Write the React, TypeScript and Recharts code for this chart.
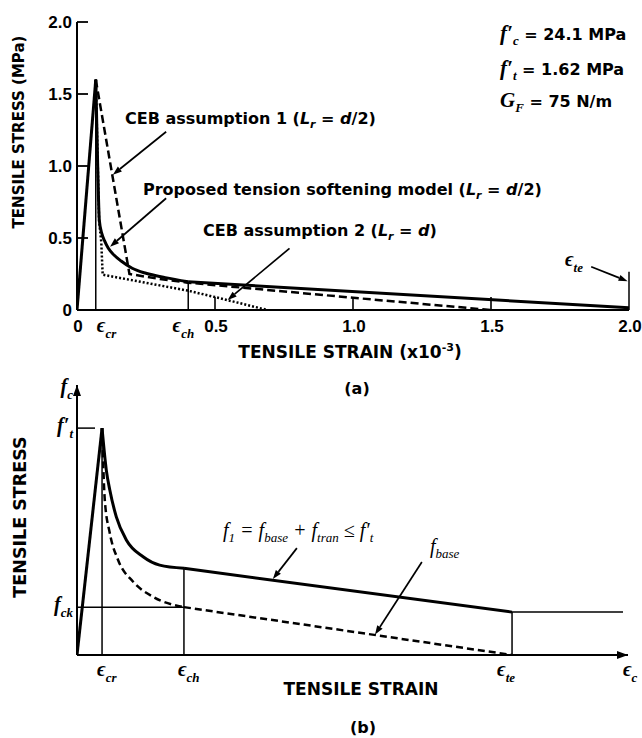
import React from "react";
import { LineChart, Line, XAxis, YAxis, ReferenceLine, ReferenceDot } from "recharts";

// ---- panel (a): strain in 1e-3, stress in MPa
const propRiseStrain = [0, 0.068];
const propRiseStress = [0, 1.6];
const propDecayStrain = [0.068, 0.075, 0.081, 0.09, 0.1, 0.113, 0.135, 0.16, 0.2, 0.25, 0.32, 0.403];
const propDecayStress = [1.6, 1.0, 0.62, 0.53, 0.48, 0.43, 0.38, 0.34, 0.29, 0.255, 0.225, 0.196];
const propTailStrain = [0.403, 2.0];
const propTailStress = [0.196, 0.015];
const ceb1Strain = [0.068, 0.19, 0.3, 0.4, 1.0, 1.5];
const ceb1Stress = [1.6, 0.25, 0.215, 0.19, 0.085, 0];
const ceb2Strain = [0.068, 0.08, 0.088, 0.093, 0.4, 0.5, 0.69];
const ceb2Stress = [1.6, 0.62, 0.47, 0.245, 0.135, 0.09, 0];

// eps_cr, eps_ch, eps_te markers
const aMarkStrain = [0.068, 0.403, 2.0];
const aMarkStress = [1.6, 0.196, 0.265];

const aXTicks = [0, 0.068, 0.403, 0.5, 1.0, 1.5, 2.0];
const aXTickLabels = ["0", "ϵ_cr", "ϵ_ch", "0.5", "1.0", "1.5", "2.0"];
const aYTicks = [0, 0.5, 1.0, 1.5, 2.0];
const aYTickLabels = ["0", "0.5", "1.0", "1.5", "2.0"];

// ---- panel (b): schematic, normalised units
const bRiseStrain = [0, 1];
const bRiseStress = [0, 1];
const f1DecayStrain = [1, 1.17, 1.31, 1.57, 1.97, 2.64, 3.3, 4.27];
const f1DecayStress = [1, 0.815, 0.727, 0.609, 0.507, 0.433, 0.396, 0.382];
const f1LinStrain = [4.27, 17.37];
const f1LinStress = [0.382, 0.189];
const f1TailStrain = [17.37, 21.8];
const f1TailStress = [0.189, 0.189];
const baseDecayStrain = [1, 1.11, 1.31, 1.64, 2.24, 3.03, 4.27];
const baseDecayStress = [1, 0.683, 0.537, 0.419, 0.323, 0.257, 0.211];
const baseLinStrain = [4.27, 17.37];
const baseLinStress = [0.211, 0];

const bXTicks = [1, 4.27, 17.37, 22];
const bXTickLabels = ["ϵ_cr", "ϵ_ch", "ϵ_te", "ϵ_c"];
const bYTicks = [0.211, 1, 1.19];
const bYTickLabels = ["f_ck", "f′_t", "f_c"];

const rows = (xs: number[], ys: number[]) => xs.map((x, i) => ({ x, y: ys[i] }));

const SANS = "'DejaVu Sans', sans-serif";
const NUM = "'Liberation Sans', Arial, sans-serif";
const SERIF = "'Liberation Serif', 'DejaVu Serif', serif";

const arrow = (p: any) => {
  const { x1, y1, x2, y2 } = p;
  const a = Math.atan2(y2 - y1, x2 - x1);
  const L = 9, W = 3.2;
  const bx = x2 - L * Math.cos(a), by = y2 - L * Math.sin(a);
  const pts = `${x2},${y2} ${bx + W * Math.sin(a)},${by - W * Math.cos(a)} ${bx - W * Math.sin(a)},${by + W * Math.cos(a)}`;
  return (
    <g>
      <line x1={x1} y1={y1} x2={bx} y2={by} stroke="#000" strokeWidth={1.7} />
      <polygon points={pts} fill="#000" />
    </g>
  );
};

function SymLabel({ label, x, y, anchor, size, bold }: any) {
  const [base, sub] = label.split("_");
  return (
    <text x={x} y={y} textAnchor={anchor} fontFamily={SERIF} fontStyle="italic" fontWeight={bold ? "bold" : "normal"} fontSize={size} fill="#000">
      {base}
      {sub && <tspan fontSize={size * 0.65} dy={size * 0.28}>{sub}</tspan>}
    </text>
  );
}

const ATickX = (p: any) => {
  const { x, y, payload } = p;
  const i = aXTicks.indexOf(payload.value);
  const label = aXTickLabels[i];
  if (label.startsWith("ϵ")) {
    const right = label === "ϵ_ch";
    return <SymLabel label={label} x={right ? x + 6 : x + 1} y={y + 22} anchor={right ? "end" : "start"} size={20} bold />;
  }
  return (
    <g>
      {payload.value > 0 && payload.value < 2 && <line x1={x} x2={x} y1={y} y2={y - 13} stroke="#000" strokeWidth={1.6} />}
      <text x={x + 1} y={y + 22} textAnchor="middle" fontFamily={NUM} fontWeight="bold" fontSize={17} fill="#000">{label}</text>
    </g>
  );
};

const ATickY = (p: any) => {
  const { x, y, payload } = p;
  const label = aYTickLabels[aYTicks.indexOf(payload.value)];
  return (
    <g>
      <line x1={x} x2={x + 11} y1={y} y2={y} stroke="#000" strokeWidth={1.8} />
      <text x={x - 5} y={y + 6} textAnchor="end" fontFamily={NUM} fontWeight="bold" fontSize={17} fill="#000">{label}</text>
    </g>
  );
};

const bXOffset: Record<string, number> = { "ϵ_cr": -5, "ϵ_ch": -6, "ϵ_te": -15, "ϵ_c": -5 };
const BTickX = (p: any) => {
  const { x, y, payload } = p;
  const label = bXTickLabels[bXTicks.indexOf(payload.value)];
  return <SymLabel label={label} x={x + bXOffset[label]} y={y + 21} anchor="start" size={20} bold />;
};

const BTickY = (p: any) => {
  const { x, y, payload } = p;
  const label = bYTickLabels[bYTicks.indexOf(payload.value)];
  const dy = label === "f_c" ? 8 : 4;
  return (
    <g>
      {label === "f′_t" && <line x1={x} x2={x + 18} y1={y} y2={y} stroke="#000" strokeWidth={1.5} />}
      <SymLabel label={label} x={x - 4} y={y + dy} anchor="end" size={20} bold />
    </g>
  );
};

const axisStyle = { stroke: "#000", strokeWidth: 2 };

function Lr({ sub }: { sub: string }) {
  return (
    <>
      <tspan fontStyle="italic">L</tspan>
      <tspan fontStyle="italic" fontSize={11} dy={4}>r</tspan>
      <tspan dy={-4}> = </tspan>
      <tspan fontStyle="italic">d</tspan>
      {sub}
    </>
  );
}

function Param({ y, sym, sub, prime, rest }: any) {
  return (
    <text x={500} y={y} fontSize={16}>
      <tspan fontFamily={SERIF} fontStyle="italic" fontSize={21}>{sym}{prime ? "′" : ""}</tspan>
      <tspan fontFamily={SERIF} fontStyle="italic" fontSize={13} dy={5}>{sub}</tspan>
      <tspan dy={-5}>{rest}</tspan>
    </text>
  );
}

export default function App() {
  const thick = { stroke: "#000", dot: false, isAnimationActive: false } as const;
  return (
    <div style={{ position: "absolute", left: 0, top: 0, width: 642, height: 738, background: "#fff", overflow: "hidden" }}>
      <div style={{ position: "absolute", left: 0, top: 0 }}>
        <LineChart width={642} height={360} margin={{ top: 22, right: 13, bottom: 49, left: 76 }}>
          <XAxis type="number" dataKey="x" domain={[0, 2]} ticks={aXTicks} interval={0} tickSize={0} tickMargin={0}
            height={1} tick={ATickX} tickLine={false} axisLine={axisStyle} allowDataOverflow />
          <YAxis type="number" domain={[0, 2]} ticks={aYTicks} interval={0} tickSize={0} tickMargin={0}
            width={1} tick={ATickY} tickLine={false} axisLine={axisStyle} allowDataOverflow />
          {aMarkStrain.map((s, i) => (
            <ReferenceLine key={i} segment={[{ x: s, y: 0 }, { x: s, y: aMarkStress[i] }]} stroke="#000" strokeWidth={1.5} ifOverflow="visible" />
          ))}
          <Line data={rows(ceb2Strain, ceb2Stress)} dataKey="y" type="linear" strokeWidth={2.5} strokeDasharray="2 2" {...thick} />
          <Line data={rows(ceb1Strain, ceb1Stress)} dataKey="y" type="linear" strokeWidth={2.5} strokeDasharray="8 4" {...thick} />
          <Line data={rows(propRiseStrain, propRiseStress)} dataKey="y" type="linear" strokeWidth={3} {...thick} />
          <Line data={rows(propDecayStrain, propDecayStress)} dataKey="y" type="monotone" strokeWidth={3} {...thick} />
          <Line data={rows(propTailStrain, propTailStress)} dataKey="y" type="linear" strokeWidth={3} {...thick} />
          <ReferenceLine segment={[{ x: 0.323, y: 1.238 }, { x: 0.13, y: 0.94 }]} shape={arrow} ifOverflow="visible" />
          <ReferenceLine segment={[{ x: 0.323, y: 0.776 }, { x: 0.12, y: 0.44 }]} shape={arrow} ifOverflow="visible" />
          <ReferenceLine segment={[{ x: 0.77, y: 0.428 }, { x: 0.546, y: 0.07 }]} shape={arrow} ifOverflow="visible" />
          <ReferenceLine segment={[{ x: 1.863, y: 0.3 }, { x: 1.995, y: 0.2 }]} shape={arrow} ifOverflow="visible" />
        </LineChart>
      </div>

      <div style={{ position: "absolute", left: 0, top: 360 }}>
        <LineChart width={642} height={378} margin={{ top: 25, right: 14, bottom: 82, left: 76 }}>
          <XAxis type="number" dataKey="x" domain={[0, 22]} ticks={bXTicks} interval={0} tickSize={0} tickMargin={0}
            height={1} tick={BTickX} tickLine={false} axisLine={axisStyle} allowDataOverflow />
          <YAxis type="number" domain={[0, 1.19]} ticks={bYTicks} interval={0} tickSize={0} tickMargin={0}
            width={1} tick={BTickY} tickLine={false} axisLine={axisStyle} allowDataOverflow />
          <ReferenceLine segment={[{ x: bXTicks[0], y: 0 }, { x: bXTicks[0], y: 1 }]} stroke="#000" strokeWidth={1.5} />
          <ReferenceLine segment={[{ x: bXTicks[1], y: 0 }, { x: bXTicks[1], y: f1DecayStress[f1DecayStress.length - 1] }]} stroke="#000" strokeWidth={1.5} />
          <ReferenceLine segment={[{ x: bXTicks[2], y: 0 }, { x: bXTicks[2], y: f1LinStress[1] }]} stroke="#000" strokeWidth={1.5} />
          <ReferenceLine segment={[{ x: 0, y: bYTicks[0] }, { x: bXTicks[1], y: bYTicks[0] }]} stroke="#000" strokeWidth={1.5} />
          <Line data={rows(f1TailStrain, f1TailStress)} dataKey="y" type="linear" strokeWidth={1.5} {...thick} />
          <Line data={rows(baseDecayStrain, baseDecayStress)} dataKey="y" type="monotone" strokeWidth={2.5} strokeDasharray="7 4" {...thick} />
          <Line data={rows(baseLinStrain, baseLinStress)} dataKey="y" type="linear" strokeWidth={2.5} strokeDasharray="7 4" {...thick} />
          <Line data={rows(bRiseStrain, bRiseStress)} dataKey="y" type="linear" strokeWidth={3} {...thick} />
          <Line data={rows(f1DecayStrain, f1DecayStress)} dataKey="y" type="monotone" strokeWidth={3} {...thick} />
          <Line data={rows(f1LinStrain, f1LinStress)} dataKey="y" type="linear" strokeWidth={3} {...thick} />
          <ReferenceLine segment={[{ x: 8.78, y: 0.471 }, { x: 7.82, y: 0.335 }]} shape={arrow} ifOverflow="visible" />
          <ReferenceLine segment={[{ x: 13.77, y: 0.41 }, { x: 11.9, y: 0.09 }]} shape={arrow} ifOverflow="visible" />
          <ReferenceDot x={22} y={0} ifOverflow="visible" shape={(p: any) => (
            <polygon points={`${p.cx},${p.cy} ${p.cx - 11},${p.cy - 4} ${p.cx - 11},${p.cy + 4}`} fill="#000" />
          )} />
          <ReferenceDot x={0} y={1.19} ifOverflow="visible" shape={(p: any) => (
            <polygon points={`${p.cx},${p.cy} ${p.cx - 4},${p.cy + 11} ${p.cx + 4},${p.cy + 11}`} fill="#000" />
          )} />
        </LineChart>
      </div>

      <svg width={642} height={738} style={{ position: "absolute", left: 0, top: 0, pointerEvents: "none" }}>
        <g fontFamily={SANS} fontWeight="bold" fill="#000">
          {/* panel (a) */}
          <text transform="translate(19,132) rotate(-90)" textAnchor="middle" dominantBaseline="central" fontSize={15}>TENSILE STRESS  (MPa)</text>
          <text x={350} y={358} textAnchor="middle" fontSize={17}>
            TENSILE STRAIN (x10<tspan fontSize={11} dy={-7}>-3</tspan><tspan dy={7}>)</tspan>
          </text>
          <text x={357} y={394} textAnchor="middle" fontSize={16}>(a)</text>
          <Param y={40} sym="f" sub="c" prime rest=" = 24.1 MPa" />
          <Param y={75} sym="f" sub="t" prime rest="  = 1.62 MPa" />
          <Param y={107} sym="G" sub="F" rest=" = 75 N/m" />
          <text x={125} y={124} fontSize={16}>CEB assumption 1 (<Lr sub="/2)" /></text>
          <text x={143} y={195} fontSize={16}>Proposed tension softening model (<Lr sub="/2)" /></text>
          <text x={203} y={236} fontSize={16}>CEB assumption 2 (<Lr sub=")" /></text>
          <SymLabel label="ϵ_te" x={565} y={266} anchor="start" size={20} bold />

          {/* panel (b) */}
          <text transform="translate(20,517) rotate(-90)" textAnchor="middle" dominantBaseline="central" fontSize={17.5}>TENSILE STRESS</text>
          <text x={361} y={695} textAnchor="middle" fontSize={17}>TENSILE STRAIN</text>
          <text x={363} y={733} textAnchor="middle" fontSize={16}>(b)</text>
        </g>
        <g fontFamily={SERIF} fontStyle="italic" fill="#000">
          <text x={223} y={537} fontSize={20}>
            f<tspan fontSize={13} dy={5}>1</tspan>
            <tspan dy={-5}> = f</tspan><tspan fontSize={13} dy={5}>base</tspan>
            <tspan dy={-5}> + f</tspan><tspan fontSize={13} dy={5}>tran</tspan>
            <tspan dy={-5}> ≤ f′</tspan><tspan fontSize={13} dy={5}>t</tspan>
          </text>
          <text x={430} y={553} fontSize={20}>
            f<tspan fontSize={13} dy={5}>base</tspan>
          </text>
        </g>
      </svg>
    </div>
  );
}
